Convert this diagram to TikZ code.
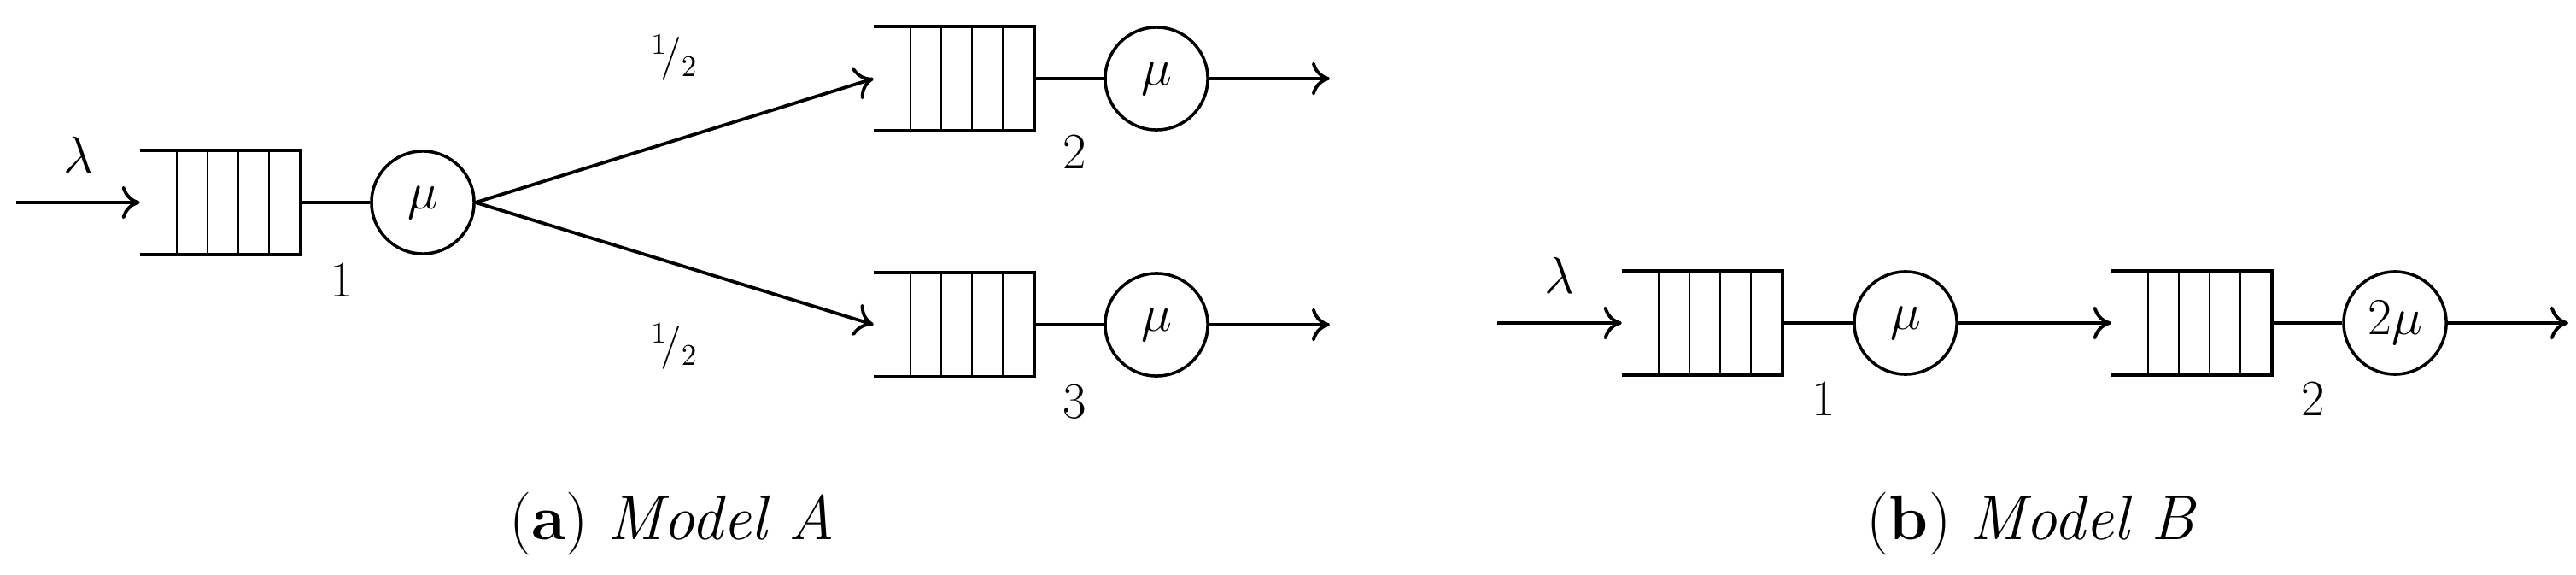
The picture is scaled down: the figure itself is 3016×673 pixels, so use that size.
\documentclass[tikz,border=0pt]{standalone}
\usetikzlibrary{arrows.meta,calc}
\begin{document}
\begin{tikzpicture}[x=0.01cm,y=-0.01cm,
  every node/.style={font=\fontsize{17}{20}\selectfont},
  queue/.style={minimum width=1.87cm,minimum height=1.21cm,inner sep=0,draw=none},
  srv/.style={circle,draw,line width=1pt,minimum size=1.2cm,inner sep=0},
  conn/.style={line width=1.1pt},
  arr/.style={line width=1.1pt,-{To[length=6pt,width=11pt]}},
  captext/.style={font=\fontsize{21}{24}\selectfont}]
\useasboundingbox (0,0) rectangle (3016,673);
\newcommand{\queuebox}[1]{%
  \draw[line width=1.2pt] (#1.north west) -- (#1.north east) -- (#1.south east) -- (#1.south west);
  \foreach \f in {0.23,0.42,0.61,0.80}
    \draw[line width=0.6pt] ($(#1.north west)!\f!(#1.north east)$) -- ($(#1.south west)!\f!(#1.south east)$);}
% Model A
\node[queue] (a1) at (258,237) {};
\node[srv] (s1) at (495,237) {$\mu$};
\node[queue] (a2) at (1117,92) {};
\node[srv] (s2) at (1354,92) {$\mu$};
\node[queue] (a3) at (1117,380) {};
\node[srv] (s3) at (1354,380) {$\mu$};
\queuebox{a1}\queuebox{a2}\queuebox{a3}
\coordinate (in1) at (19,237);
\coordinate (o2) at (1557,92);
\coordinate (o3) at (1557,380);
\draw[arr] (in1) -- node[above=6pt] {$\lambda$} (a1.west);
\draw[conn] (a1.east) -- (s1.west);
\draw[conn] (a2.east) -- (s2.west);
\draw[conn] (a3.east) -- (s3.west);
\draw[arr] (s1.east) -- node[pos=0.5,above=16pt] {\fontsize{14}{16}\selectfont ${}^1\!/_2$} (a2.west);
\draw[arr] (s1.east) -- node[pos=0.5,below=16pt] {\fontsize{14}{16}\selectfont ${}^1\!/_2$} (a3.west);
\draw[arr] (s2.east) -- (o2);
\draw[arr] (s3.east) -- (o3);
\node (l1) at (400,328) {1};
\node (l2) at (1258,178) {2};
\node (l3) at (1258,470) {3};
\node[captext] (ca) at (787,613) {(\textbf{a}) \textit{Model A}};
% Model B
\node[queue] (b1) at (1993,378) {};
\node[srv] (t1) at (2231,378) {$\mu$};
\node[queue] (b2) at (2566,378) {};
\node[srv] (t2) at (2804,378) {$2\mu$};
\queuebox{b1}\queuebox{b2}
\coordinate (in2) at (1753,378);
\coordinate (ob) at (3007,378);
\draw[arr] (in2) -- node[above=6pt] {$\lambda$} (b1.west);
\draw[conn] (b1.east) -- (t1.west);
\draw[arr] (t1.east) -- (b2.west);
\draw[conn] (b2.east) -- (t2.west);
\draw[arr] (t2.east) -- (ob);
\node (m1) at (2135,467) {1};
\node (m2) at (2708,467) {2};
\node[captext] (cb) at (2379,613) {(\textbf{b}) \textit{Model B}};
\end{tikzpicture}
\end{document}
